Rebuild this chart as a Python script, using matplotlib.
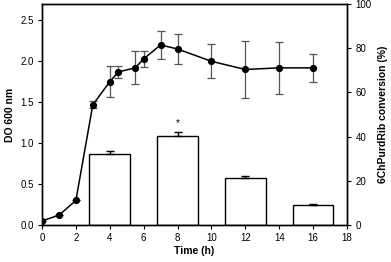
import numpy as np
import matplotlib
matplotlib.use("Agg")
import matplotlib.pyplot as plt

plt.rcParams["font.family"] = ["Liberation Sans", "DejaVu Sans"]

# growth curve (left axis, DO 600 nm)
t_do = [0, 1, 2, 3, 4, 4.5, 5.5, 6, 7, 8, 10, 12, 14, 16]
do600 = [0.05, 0.12, 0.30, 1.47, 1.75, 1.87, 1.92, 2.03, 2.20, 2.15, 2.00, 1.90, 1.92, 1.92]
do_err = [0.0, 0.0, 0.0, 0.04, 0.19, 0.07, 0.20, 0.10, 0.17, 0.18, 0.21, 0.35, 0.32, 0.17]

# conversion bars (right axis, %)
t_conv = [4, 8, 12, 16]
conv = [32.2, 40.4, 21.1, 9.2]
conv_err = [1.4, 1.8, 1.0, 0.4]

fig = plt.figure(figsize=(3.91, 2.62), dpi=100)
ax = fig.add_axes([0.1074, 0.1412, 0.7801, 0.8435])
ax2 = ax.twinx()

ax2.bar(t_conv, conv, width=2.4, color="white", edgecolor="black", linewidth=1.0,
        yerr=[[0] * len(conv_err), conv_err], capsize=3,
        error_kw={"elinewidth": 1.0, "capthick": 1.0, "ecolor": "black"})
ax2.text(t_conv[1], conv[1] + conv_err[1] + 1.5, "*", ha="center", va="bottom", fontsize=7)

ax.errorbar(t_do, do600, yerr=do_err, color="black", ecolor="#555555", elinewidth=0.9,
            capsize=3, capthick=0.9, marker="o", ms=4.2, lw=1.1)

ax.set_zorder(ax2.get_zorder() + 1)
ax.patch.set_visible(False)

ax.set_xlim(0, 18)
ax.set_ylim(0, 2.7)
ax2.set_ylim(0, 100)
ax.set_xticks(range(0, 19, 2))
ax.set_yticks([0, 0.5, 1.0, 1.5, 2.0, 2.5])
ax.set_yticklabels([f"{v:.1f}" for v in [0, 0.5, 1.0, 1.5, 2.0, 2.5]])
ax2.set_yticks(range(0, 101, 20))

for a in (ax, ax2):
    a.tick_params(labelsize=7, length=3, width=0.8, direction="out", pad=3)
    for s in a.spines.values():
        s.set_linewidth(1.0)

ax.set_xlabel("Time (h)", fontsize=7.5, fontweight="bold", labelpad=2)
ax.set_ylabel("DO 600 nm", fontsize=7.5, fontweight="bold", labelpad=4)
ax2.set_ylabel("6ChPurdRib conversion (%)", fontsize=7.5, fontweight="bold", labelpad=5)

fig.savefig("out.png", dpi=100)
